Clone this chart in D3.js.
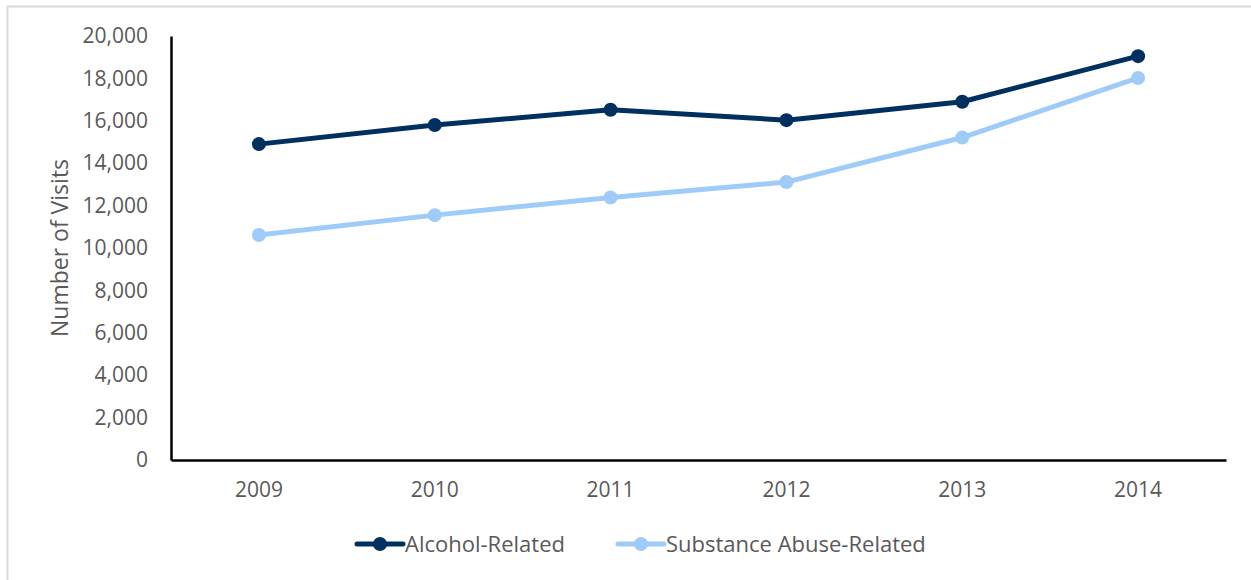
<!DOCTYPE html>
<html>
<head>
<meta charset="utf-8">
<script src="https://cdn.jsdelivr.net/npm/d3@7"></script>
<style>
  html, body { margin: 0; padding: 0; background: #fff; }
  svg { display: block; font-family: "Open Sans", sans-serif; }
</style>
</head>
<body>
<div id="chart"></div>
<script>
const years = ["2009", "2010", "2011", "2012", "2013", "2014"];
const alcohol = [14900, 15800, 16520, 16030, 16900, 19050];
const substance = [10610, 11550, 12380, 13110, 15210, 18020];
const yTicks = [0, 2000, 4000, 6000, 8000, 10000, 12000, 14000, 16000, 18000, 20000];
const seriesNames = ["Alcohol-Related", "Substance Abuse-Related"];
const seriesColors = ["#00305f", "#9fcbf9"];

const w = 1251;
const h = 580;
const plotLeft = 171, plotRight = 1226, plotTop = 36, plotBottom = 460;

const svg = d3.select("#chart")
  .append("svg")
  .attr("width", w)
  .attr("height", h);

// outer frame
svg.append("rect")
  .attr("x", 7.5)
  .attr("y", 6.5)
  .attr("width", 1260)
  .attr("height", 600)
  .attr("fill", "none")
  .attr("stroke", "#d9d9d9")
  .attr("stroke-width", 2);

const xScale = d3.scaleBand()
  .domain(years)
  .range([plotLeft, plotRight]);

const yScale = d3.scaleLinear()
  .domain([0, 20000])
  .range([plotBottom, plotTop]);

const xAxis = d3.axisBottom(xScale).tickSize(0).tickPadding(22);
const yAxis = d3.axisLeft(yScale)
  .tickValues(yTicks)
  .tickSize(0)
  .tickPadding(23)
  .tickFormat(d3.format(","));

const gx = svg.append("g")
  .attr("transform", `translate(0, ${plotBottom})`)
  .call(xAxis);

const gy = svg.append("g")
  .attr("transform", `translate(${plotLeft}, 0)`)
  .call(yAxis);

[gx, gy].forEach(g => {
  g.select(".domain").attr("stroke", "#000").attr("stroke-width", 2.5);
  g.selectAll("text")
    .attr("fill", "#595959")
    .style("font-size", "21px")
    .style("font-family", "'Open Sans', sans-serif");
});

svg.append("text")
  .attr("transform", `translate(68, ${(plotTop + plotBottom) / 2}) rotate(-90)`)
  .attr("text-anchor", "middle")
  .attr("fill", "#595959")
  .style("font-size", "23px")
  .text("Number of Visits");

const line = d3.line()
  .x((d, i) => xScale(years[i]) + xScale.bandwidth() / 2)
  .y(d => yScale(d));

[substance, alcohol].forEach((vals, k) => {
  const color = k === 0 ? seriesColors[1] : seriesColors[0];
  svg.append("path")
    .datum(vals)
    .attr("d", line)
    .attr("fill", "none")
    .attr("stroke", color)
    .attr("stroke-width", 5)
    .attr("stroke-linejoin", "round");

  svg.selectAll(null)
    .data(vals)
    .enter()
    .append("circle")
    .attr("cx", (d, i) => xScale(years[i]) + xScale.bandwidth() / 2)
    .attr("cy", d => yScale(d))
    .attr("r", 7)
    .attr("fill", color);
});

// legend
const legend = svg.append("g").attr("transform", "translate(0, 544)");
const legendX = [355, 616];
seriesNames.forEach((name, i) => {
  const g = legend.append("g").attr("transform", `translate(${legendX[i]}, 0)`);
  g.append("line")
    .attr("x1", 2).attr("x2", 48)
    .attr("stroke", seriesColors[i])
    .attr("stroke-width", 5)
    .attr("stroke-linecap", "round");
  g.append("circle")
    .attr("cx", 25)
    .attr("r", 7)
    .attr("fill", seriesColors[i]);
  g.append("text")
    .attr("x", 50)
    .attr("dy", "0.35em")
    .attr("fill", "#595959")
    .style("font-size", "22px")
    .text(name);
});
</script>
</body>
</html>
